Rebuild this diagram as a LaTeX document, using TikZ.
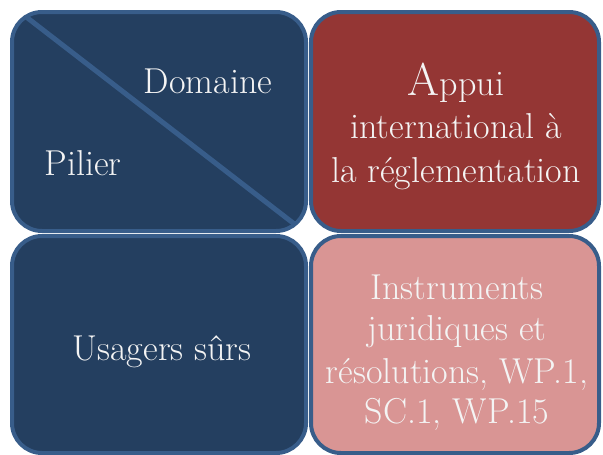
\documentclass[tikz,border=0pt]{standalone}
\usepackage{fontspec}
\definecolor{darkfill}{HTML}{243F60}
\definecolor{redfill}{HTML}{943634}
\definecolor{pinkfill}{HTML}{D99594}
\definecolor{edge}{HTML}{385D8A}
\definecolor{txt}{HTML}{F4F4F4}
\tikzset{
  tile/.style={draw=edge, line width=4pt, rounded corners=30pt, inner sep=0pt,
    minimum width=#1, minimum height=219pt},
  lbl/.style={text=txt, anchor=base, inner sep=0pt, font=\rmfamily\fontsize{36}{43}\selectfont}
}
\begin{document}
\begin{tikzpicture}[x=1pt,y=-1pt]
\useasboundingbox (0,0) rectangle (603,455);
\node[tile=294pt, fill=darkfill, path picture={
  \draw[edge, line width=5pt] ([yshift=6pt]path picture bounding box.north west) -- ([yshift=-2pt]path picture bounding box.south east);}]
  (b1) at (159,121.5) {};
\node[tile=288pt, fill=redfill] (b2) at (455,121.5) {};
\node[tile=294pt, fill=darkfill, minimum height=217pt] (b3) at (159,344.5) {};
\node[tile=288pt, fill=pinkfill, minimum height=217pt] (b4) at (455,344.5) {};

\node[lbl] (dom) at (208,93) {Domaine};
\node[lbl] (pil) at (83,175) {Pilier};
\node[lbl] (usa) at (162,360) {Usagers sûrs};

\node[lbl] (ap1) at (456,95) {{\fontsize{46}{46}\selectfont A}ppui};
\node[lbl] (ap2) at (456,138) {international à};
\node[lbl] (ap3) at (456,182) {la réglementation};

\node[lbl] (in1) at (457,299) {Instruments};
\node[lbl] (in2) at (457,340) {juridiques et};
\node[lbl] (in3) at (457,383) {résolutions, WP.1,};
\node[lbl] (in4) at (457,423) {SC.1, WP.15};
\end{tikzpicture}
\end{document}
